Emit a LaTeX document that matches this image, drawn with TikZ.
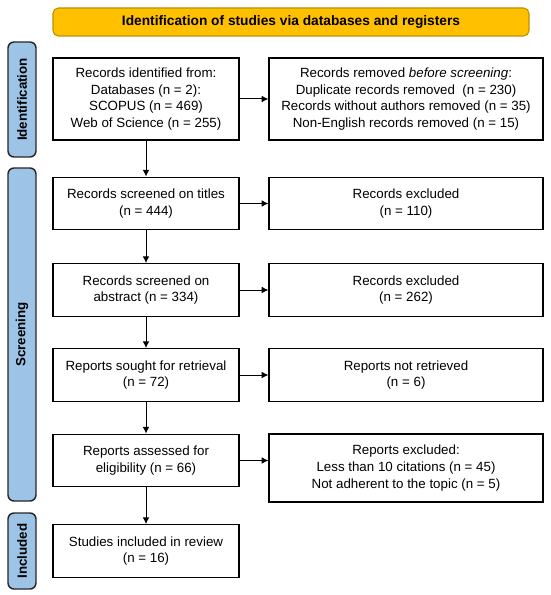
\documentclass[tikz,border=0pt]{standalone}
\usepackage{fontspec}
\setmainfont{Liberation Sans}
\usetikzlibrary{arrows.meta}
\definecolor{phaseblue}{HTML}{9DC3E6}
\definecolor{bannergold}{HTML}{FFC000}
\definecolor{bannerline}{HTML}{BF9000}
\begin{document}
\begin{tikzpicture}[x=0.75pt,y=-0.75pt,
  box/.style={draw=black, line width=0.9pt, fill=white, align=center, inner sep=0pt,
              font=\fontsize{10}{12.6}\selectfont},
  lbox/.style={box, minimum width=139.5pt},
  rbox/.style={box, minimum width=205.5pt},
  phase/.style={draw=black!85, line width=1.1pt, fill=phaseblue, rounded corners=4.5pt,
                rotate=90, minimum height=21pt, inner sep=0pt,
                font=\bfseries\fontsize{10}{12}\selectfont},
  arr/.style={-{Latex[length=5pt,width=5pt]}, line width=0.75pt}]
\useasboundingbox (0,0) rectangle (550,595);

% banner
\node[draw=bannerline, line width=0.8pt, fill=bannergold, rounded corners=4pt,
      minimum width=357pt, minimum height=21pt, inner sep=0pt,
      font=\bfseries\fontsize{10.3}{12}\selectfont] (banner) at (291,22)
      {Identification of studies via databases and registers};

% phase labels
\node[phase, minimum width=86.25pt] (pid) at (22,99.5) {Identification};
\node[phase, minimum width=249.75pt] (pscr) at (22,334.5) {Screening};
\node[phase, minimum width=57pt] (pinc) at (22,551) {Included};

% left column
\node[lbox, minimum height=61.5pt] (ident) at (146,99)
  {Records identified from:\\Databases (n = 2):\\SCOPUS (n = 469)\\Web of Science (n = 255)};
\node[lbox, minimum height=39.5pt] (titles) at (146,203.5)
  {Records screened on titles\\(n = 444)};
\node[lbox, minimum height=39.5pt] (abstr) at (146,290)
  {Records screened on\\abstract (n = 334)};
\node[lbox, minimum height=39.5pt] (sought) at (146,375)
  {Reports sought for retrieval\\(n = 72)};
\node[lbox, minimum height=39.5pt] (assess) at (146,460.5)
  {Reports assessed for\\eligibility (n = 66)};
\node[lbox, minimum height=39.5pt] (incl) at (146,551)
  {Studies included in review\\(n = 16)};

% right column
\node[rbox, minimum height=61.5pt] (removed) at (406,99)
  {Records removed \textit{before screening}:\\Duplicate records removed\ \ (n = 230)\\Records without authors removed (n = 35)\\Non-English records removed (n = 15)};
\node[rbox, minimum height=39.5pt] (exc1) at (406,203.5)
  {Records excluded\\(n = 110)};
\node[rbox, minimum height=39.5pt] (exc2) at (406,290)
  {Records excluded\\(n = 262)};
\node[rbox, minimum height=39.5pt] (notret) at (406,375)
  {Reports not retrieved\\(n = 6)};
\node[rbox, minimum height=51pt] (repexc) at (406,468)
  {Reports excluded:\\Less than 10 citations (n = 45)\\Not adherent to the topic (n = 5)};

% vertical arrows
\draw[arr] (ident) -- (titles);
\draw[arr] (titles) -- (abstr);
\draw[arr] (abstr) -- (sought);
\draw[arr] (sought) -- (assess);
\draw[arr] (assess) -- (incl);

% horizontal arrows
\draw[arr] (ident.east) -- (removed.west);
\draw[arr] (titles.east) -- (exc1.west);
\draw[arr] (abstr.east) -- (exc2.west);
\draw[arr] (sought.east) -- (notret.west);
\draw[arr] (assess.east) -- (assess.east -| repexc.west);
\end{tikzpicture}
\end{document}
